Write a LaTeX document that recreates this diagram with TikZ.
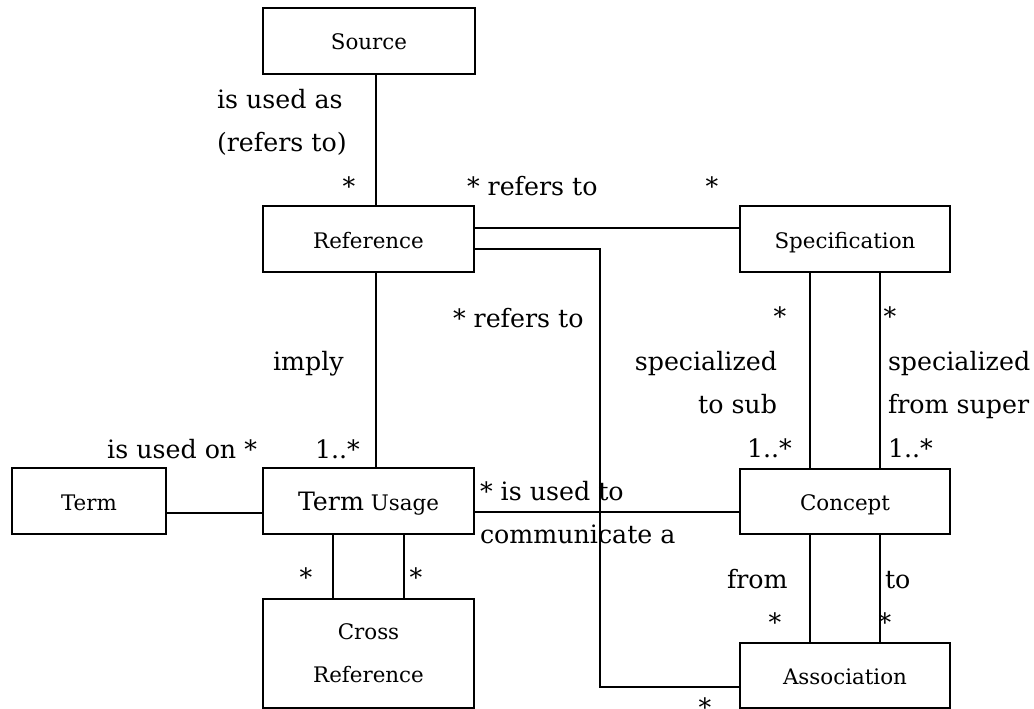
\documentclass[tikz,border=0pt]{standalone}
\usepackage{fontspec}
\setmainfont{DejaVu Serif}
\newcommand\lblfont{\fontsize{25.3}{43}\selectfont}
\newcommand\boxfont{\fontsize{21.4}{43}\selectfont}
\begin{document}
\begin{tikzpicture}[x=1pt,y=-1pt,
  box/.style={draw, line width=1.9pt, inner sep=0pt, outer sep=0pt, font=\boxfont},
  oneline/.style={text height=20pt, text depth=2pt},
  wire/.style={line width=1.9pt},
  lbl/.style={inner sep=0pt, outer sep=0pt, font=\lblfont}]
\useasboundingbox (0,0) rectangle (1034,709);
\fill[white] (0,0) rectangle (1034,709);

% classes
\node[box, oneline, minimum width=212pt, minimum height=66pt] (source) at (369,41) {Source};
\node[box, oneline, minimum width=211pt, minimum height=66pt] (reference) at (368.5,239) {Reference};
\node[box, oneline, minimum width=210pt, minimum height=66pt] (spec) at (845,239) {Specification};
\node[box, oneline, minimum width=154pt, minimum height=66pt] (term) at (89,501) {Term};
\node[box, oneline, minimum width=211pt, minimum height=66pt] (usage) at (368.5,501) {{\lblfont Term} Usage};
\node[box, oneline, minimum width=210pt, minimum height=65pt] (concept) at (845,501.5) {Concept};
\node[box, align=center, minimum width=211pt, minimum height=109pt] (xref) at (368.5,653.5) {Cross\\Reference};
\node[box, oneline, minimum width=210pt, minimum height=65pt] (assoc) at (845,675.5) {Association};

% associations
\coordinate (lx) at (376,0);
\coordinate (bend) at (600,400);
\draw[wire] (source.south -| lx) -- (reference.north -| lx);
\draw[wire] (reference.south -| lx) -- (usage.north -| lx);
\draw[wire] ([yshift=11pt]reference.east) -- ([yshift=11pt]spec.west);
\draw[wire] ([yshift=-10pt]reference.east) -| (bend) |- ([yshift=-11.5pt]assoc.west);
\draw[wire] ([yshift=-12pt]term.east) -- ([yshift=-12pt]usage.west);
\draw[wire] ([yshift=-11pt]usage.east) -- ([yshift=-10.5pt]concept.west);
\draw[wire] ([xshift=-35.5pt]usage.south) -- ([xshift=-35.5pt]xref.north);
\draw[wire] ([xshift=35.5pt]usage.south) -- ([xshift=35.5pt]xref.north);
\draw[wire] ([xshift=-35pt]spec.south) -- ([xshift=-35pt]concept.north);
\draw[wire] ([xshift=35pt]spec.south) -- ([xshift=35pt]concept.north);
\draw[wire] ([xshift=-35pt]concept.south) -- ([xshift=-35pt]assoc.north);
\draw[wire] ([xshift=35pt]concept.south) -- ([xshift=35pt]assoc.north);

% role names and multiplicities
\node[lbl, anchor=west, align=left] (l1) at (217,122) {is used as\\(refers to)};
\node[lbl, anchor=base] (s1) at (349,195) {*};
\node[lbl, anchor=base west] (l2) at (467,195) {* refers to};
\node[lbl, anchor=base] (s2) at (712,195) {*};
\node[lbl, anchor=base west] (l3) at (453,327) {* refers to};
\node[lbl, anchor=base west] (l4) at (273,370) {imply};
\node[lbl, anchor=base east] (l5) at (257,458) {is used on *};
\node[lbl, anchor=base west] (l6) at (315,458) {1..*};
\node[lbl, anchor=base] (s3) at (780,325) {*};
\node[lbl, anchor=base] (s4) at (890,325) {*};
\node[lbl, anchor=east, align=right] (l7) at (777,383) {specialized\\to sub};
\node[lbl, anchor=west, align=left] (l8) at (888,385) {specialized\\from super};
\node[lbl, anchor=base west] (l9) at (747,457) {1..*};
\node[lbl, anchor=base west] (l10) at (888,457) {1..*};
\node[lbl, anchor=west, align=left] (l11) at (480,513) {* is used to\\communicate a};
\node[lbl, anchor=base] (s5) at (306,586) {*};
\node[lbl, anchor=base] (s6) at (416,586) {*};
\node[lbl, anchor=base west] (l12) at (727,588) {from};
\node[lbl, anchor=base west] (l13) at (885,588) {to};
\node[lbl, anchor=base] (s7) at (775,631) {*};
\node[lbl, anchor=base] (s8) at (885,631) {*};
\node[lbl, anchor=base] (s9) at (705,716) {*};
\end{tikzpicture}
\end{document}
